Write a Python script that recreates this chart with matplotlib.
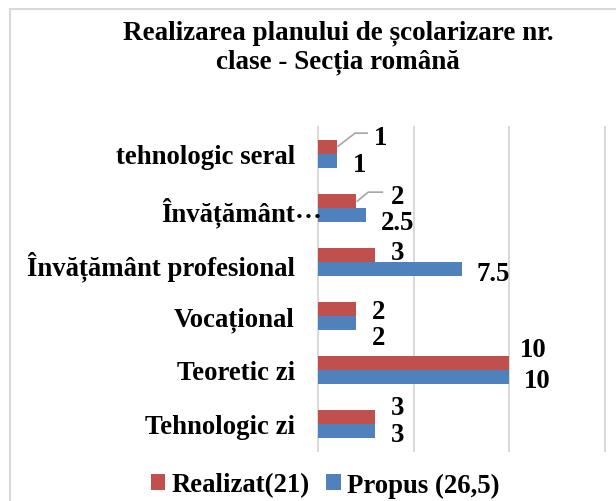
import numpy as np
import matplotlib
matplotlib.use('Agg')
import matplotlib.pyplot as plt
from matplotlib.patches import Rectangle
from matplotlib.lines import Line2D
import matplotlib.transforms as mtransforms

plt.rcParams['font.family'] = ['Liberation Serif', 'DejaVu Serif']
plt.rcParams['font.weight'] = 'bold'

# ---- data ----
categories = ['Tehnologic zi', 'Teoretic zi', 'Vocațional',
              'Învățământ profesional', 'Învățământ…', 'tehnologic seral']
realizat = [3, 10, 2, 3, 2, 1]
propus = [3, 10, 2, 7.5, 2.5, 1]
realizat_labels = ['3', '10', '2', '3', '2', '1']
propus_labels = ['3', '10', '2', '7.5', '2.5', '1']
series_names = ['Realizat(21)', 'Propus (26,5)']
title = 'Realizarea planului de școlarizare nr.\nclase - Secția română'

# ---- style / layout ----
RED = '#C0504D'
BLUE = '#4F81BD'
GRID = '#D9D9D9'
FS = 19.3
W, H = 616, 502

# label offsets (pixels, relative to bar end / bar centre)
red_off = [(22, 13), (24, 17), (22, 1), (22, 6), (41, 8), (43, 13)]
blue_off = [(22, -1), (28, -1), (22, -12), (32, -2), (32, -5), (22, -1)]
# leader lines (pixel vertices relative to bar end) for moved labels
leaders = {4: [(1, 0), (12, 9), (26, 9)], 5: [(1, 1), (18, 14), (30, 14)]}

fig = plt.figure(figsize=(W / 100, H / 100), dpi=100)
ax = fig.add_axes([318 / W, 1 - 452 / H, (605 - 318) / W, (452 - 128) / H])

y = np.arange(len(categories))
h = 0.254
ax.barh(y + h / 2, realizat, height=h, color=RED, label=series_names[0], zorder=3)
ax.barh(y - h / 2, propus, height=h, color=BLUE, label=series_names[1], zorder=3)

ax.set_xlim(0, 15)
ax.set_ylim(-0.5, len(categories) - 0.5)
ax.set_xticks([0, 5, 10, 15])
ax.tick_params(axis='x', length=0, labelbottom=False)
ax.xaxis.grid(True, color=GRID, lw=1.4)
for gl in ax.get_xgridlines():
    gl.set_clip_on(False)
ax.set_axisbelow(True)
for s in ax.spines.values():
    s.set_visible(False)
ax.set_yticks(y)
ax.set_yticklabels([])
ax.tick_params(axis='y', length=0)

# category labels
for i, cat in enumerate(categories):
    if cat.endswith('…'):
        ax.annotate(cat[:-1], xy=(0, i), xytext=(-23, 0), textcoords='offset pixels',
                    ha='right', va='center_baseline', fontsize=FS, fontweight='bold')
        ax.annotate('…', xy=(0, i), xytext=(-23, 0), textcoords='offset pixels',
                    ha='left', va='center_baseline', fontsize=FS, fontweight='bold')
    else:
        ax.annotate(cat, xy=(0, i), xytext=(-23, 0), textcoords='offset pixels',
                    ha='right', va='center_baseline', fontsize=FS, fontweight='bold')

# data labels
for i in range(len(categories)):
    ax.annotate(realizat_labels[i], xy=(realizat[i], y[i] + h / 2), xytext=red_off[i],
                textcoords='offset pixels', ha='center', va='center_baseline',
                fontsize=FS, fontweight='bold')
    ax.annotate(propus_labels[i], xy=(propus[i], y[i] - h / 2), xytext=blue_off[i],
                textcoords='offset pixels', ha='center', va='center_baseline',
                fontsize=FS, fontweight='bold')

# leader lines
for i, verts in leaders.items():
    x0, y0 = ax.transData.transform((realizat[i], y[i] + h / 2))
    xs = [x0 + dx for dx, dy in verts]
    ys = [y0 + dy for dx, dy in verts]
    fig.add_artist(Line2D(xs, ys, transform=mtransforms.IdentityTransform(),
                          color='#A6A6A6', lw=1.2))

# title
fig.text(338 / W, 1 - 48 / H, title, ha='center', va='center', fontsize=19.5,
         fontweight='bold', linespacing=1.2)

# legend
fig.legend(loc='center', bbox_to_anchor=(325 / W, 1 - 486 / H), ncol=2, frameon=False,
           prop={'size': FS, 'weight': 'bold'}, handlelength=0.53, handleheight=0.53,
           handletextpad=0.23, columnspacing=0.64, borderpad=0, borderaxespad=0)

# chart area border
fig.add_artist(Rectangle((10 / W, -0.1), 1.2, 1.1 - 10 / H, transform=fig.transFigure,
                         fill=False, ec=GRID, lw=1.5, clip_on=False))

fig.savefig('out.png', dpi=100)
